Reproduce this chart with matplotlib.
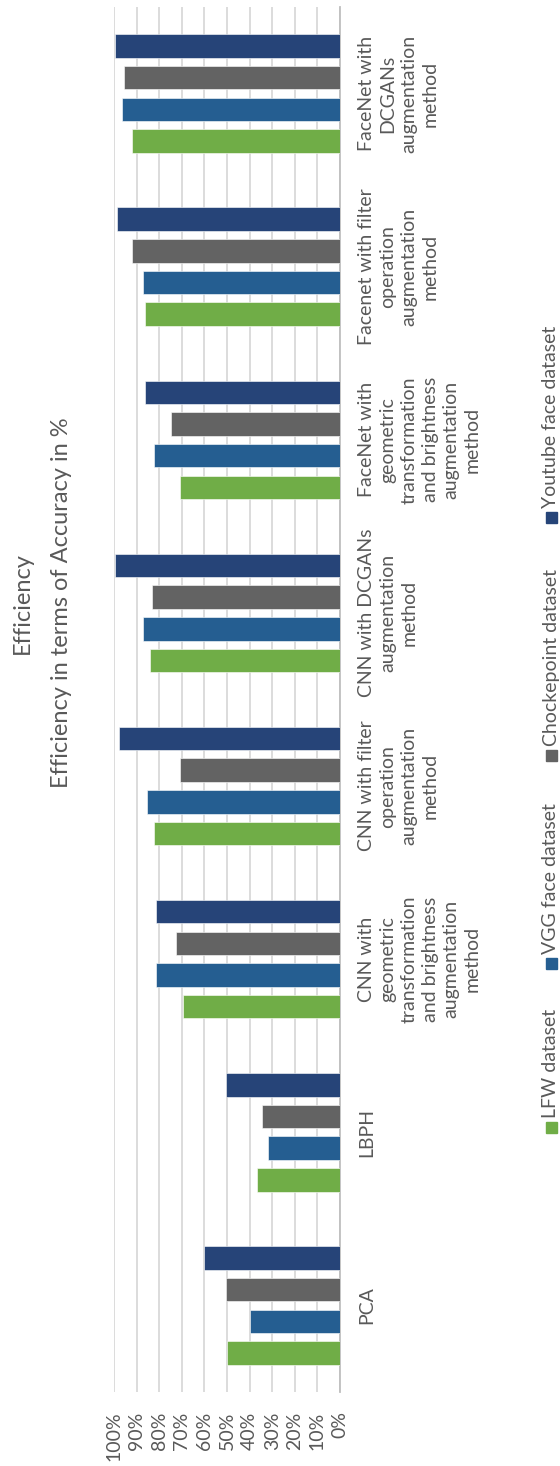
import numpy as np
import matplotlib.pyplot as plt
import matplotlib.transforms as mtransforms
from matplotlib.patches import Rectangle

plt.rcParams['font.family'] = ['Lato', 'DejaVu Sans']

# categories, bottom (PCA) to top
methods = [
    'PCA',
    'LBPH',
    'CNN with\ngeometric\ntransformation\nand brightness\naugmentation\nmethod',
    'CNN with filter\noperation\naugmentation\nmethod',
    'CNN with DCGANs\naugmentation\nmethod',
    'FaceNet with\ngeometric\ntransformation\nand brightness\naugmentation\nmethod',
    'Facenet with filter\noperation\naugmentation\nmethod',
    'FaceNet with\nDCGANs\naugmentation\nmethod',
]

series_names = ['LFW dataset', 'VGG face dataset', 'Chockepoint dataset', 'Youtube face dataset']
series_colors = ['#70AD47', '#255E91', '#636363', '#264478']

lfw = [50, 36.7, 69.5, 82.3, 84.1, 70.9, 86.4, 92.2]
vgg = [40, 31.9, 81.6, 85.5, 87.3, 82.4, 87.3, 96.3]
choke = [50.5, 34.4, 72.6, 70.9, 83.2, 74.9, 92.2, 95.4]
youtube = [60.3, 50.5, 81.6, 97.9, 99.6, 86.4, 98.7, 99.6]

values = [lfw, vgg, choke, youtube]
ticks = list(range(0, 101, 10))

txt = '#595959'
W, H = 560, 1466

fig = plt.figure(figsize=(W / 100, H / 100), dpi=100)
ax = fig.add_axes([114 / W, 1 - 1392 / H, 226 / W, 1385 / H])

y = np.arange(len(methods))
step = 0.183
for i, (vals, col) in enumerate(zip(values, series_colors)):
    ax.barh(y + (i - 1.5) * step, vals, height=0.136, color=col,
            edgecolor='white', linewidth=0.4, zorder=3)

ax.set_xlim(100, 0)
ax.set_ylim(-0.5, len(methods) - 0.5)
ax.set_xticks(ticks)
ax.set_xticklabels(['%d%%' % t for t in ticks])
ax.tick_params(axis='x', length=0, pad=14, labelrotation=90, labelsize=14, colors=txt)
ax.set_yticks([])
ax.grid(axis='x', color='#D9D9D9', linewidth=1.3, zorder=0)
for s in ['top', 'bottom', 'left']:
    ax.spines[s].set_visible(False)
ax.spines['right'].set_color('#BFBFBF')
ax.spines['right'].set_linewidth(1.3)

# category labels to the right of the 0% line
trans = mtransforms.blended_transform_factory(fig.transFigure, ax.transData)
for yy, lab in zip(y, methods):
    ax.text(358 / W, yy, lab, transform=trans, rotation=90, ha='left', va='center',
            multialignment='center', fontsize=14, color=txt, linespacing=1.3)

# title
fig.text(22 / W, 1 - 603 / H, 'Efficiency', rotation=90, ha='center', va='center',
         fontsize=17, color=txt)
fig.text(62 / W, 1 - 603 / H, 'Efficiency in terms of Accuracy in %', rotation=90,
         ha='center', va='center', fontsize=17, color=txt)

# legend
leg_y = [1127, 963, 755, 517]
for name, col, ly in zip(series_names, series_colors, leg_y):
    fig.patches.append(Rectangle(((546) / W, 1 - (ly + 5.5) / H), 11 / W, 11 / H,
                                 transform=fig.transFigure, color=col))
    fig.text(551 / W, 1 - (ly - 9) / H, name, rotation=90, ha='center', va='bottom',
             fontsize=14, color=txt)

fig.savefig('out.png', dpi=100)
